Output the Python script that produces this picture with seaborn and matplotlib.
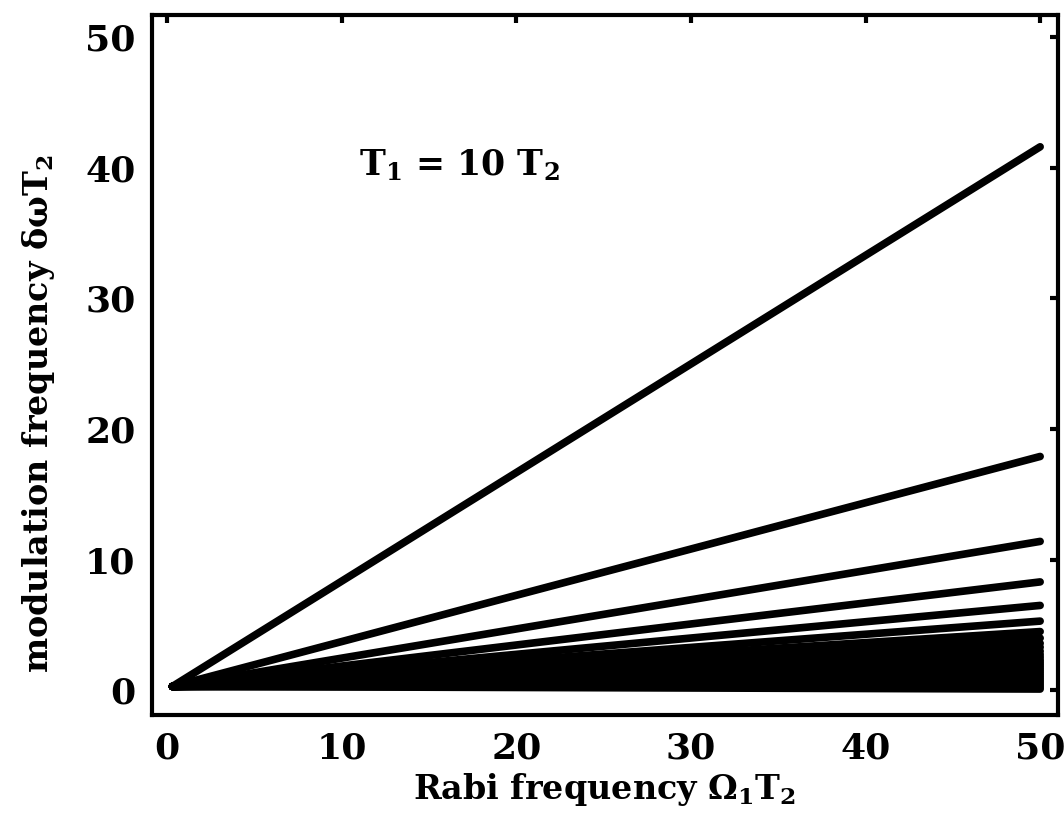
import matplotlib
matplotlib.use("Agg")
import matplotlib.pyplot as plt
import seaborn as sns
import pandas as pd

# Rabi frequency range (x) and end values (y at x=50) of each line
rabi = [0.3, 50.0]
mod_end = [41.6, 17.9, 11.4, 8.3, 6.5, 5.3, 4.5, 4.0, 3.6, 3.3, 3.0, 2.75,
           2.55, 2.35, 2.2, 2.05, 1.9, 1.75, 1.6, 1.45, 1.3, 1.15, 1.0, 0.85,
           0.7, 0.55, 0.4, 0.25, 0.1]
mod_start = 0.3
xticks = [0, 10, 20, 30, 40, 50]
yticks = [0, 10, 20, 30, 40, 50]

rows = []
for i, e in enumerate(mod_end):
    rows.append({"line": i, "x": rabi[0], "y": mod_start})
    rows.append({"line": i, "x": rabi[1], "y": e})
df = pd.DataFrame(rows)

sns.set_theme(style="white")
plt.rcParams["font.family"] = ["DejaVu Serif"]
plt.rcParams["font.weight"] = "bold"
plt.rcParams["text.color"] = "black"
plt.rcParams["axes.labelcolor"] = "black"
plt.rcParams["xtick.color"] = "black"
plt.rcParams["ytick.color"] = "black"
plt.rcParams["mathtext.fontset"] = "custom"
plt.rcParams["mathtext.rm"] = "DejaVu Serif:bold"
plt.rcParams["mathtext.bf"] = "DejaVu Serif:bold"
plt.rcParams["mathtext.it"] = "DejaVu Serif:bold"

fig = plt.figure(figsize=(10.64, 8.23), dpi=100)
ax = fig.add_axes([0.143, 0.131, 0.851, 0.851])

sns.lineplot(data=df, x="x", y="y", units="line", estimator=None,
             color="black", linewidth=5.5, ax=ax, legend=False,
             solid_capstyle="round")

ax.set_xlim(-0.86, 51.0)
ax.set_ylim(-1.9, 51.7)
ax.set_xticks(xticks)
ax.set_yticks(yticks)
ax.tick_params(direction="in", length=6, width=3, top=True, right=True,
               labelsize=26, pad=12, colors="black")
for lab in ax.get_xticklabels() + ax.get_yticklabels():
    lab.set_fontweight("bold")
for s in ax.spines.values():
    s.set_linewidth(3)
    s.set_color("black")

ax.set_xlabel(r"Rabi frequency $\Omega_1$T$_2$", fontsize=24, fontweight="bold",
              color="black", labelpad=4)
ax.set_ylabel(r"modulation frequency $\delta\omega$T$_2$", fontsize=24,
              fontweight="bold", color="black")
ax.yaxis.set_label_coords(-0.105, 0.43)

ax.text(11.0, 40.2, r"T$_1$ = 10 T$_2$", fontsize=25, fontweight="bold",
        color="black", ha="left", va="center")

fig.savefig("out.png", dpi=100)
